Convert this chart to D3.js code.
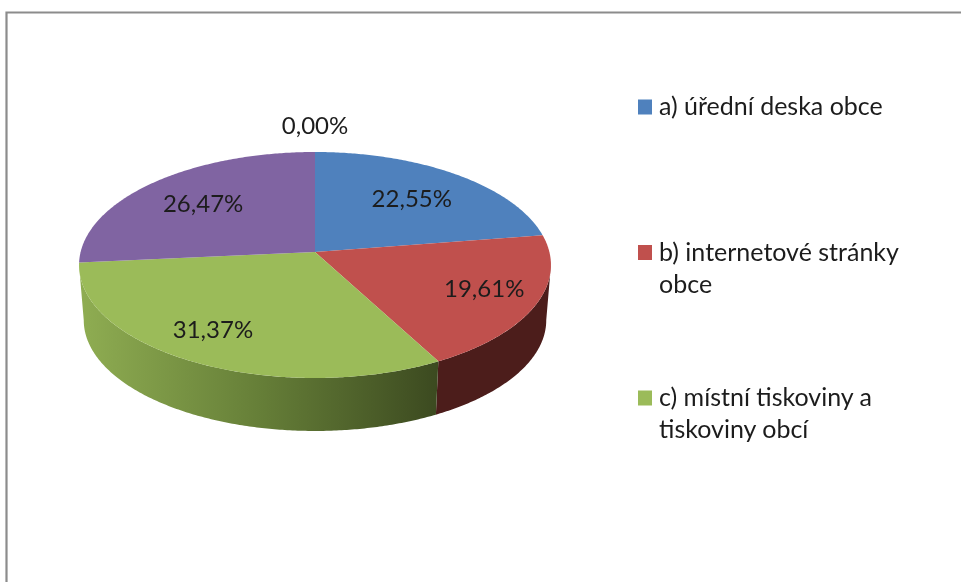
<!DOCTYPE html>
<html>
<head>
<meta charset="utf-8">
<script src="https://cdn.jsdelivr.net/npm/d3@7"></script>
<style>
    html, body { margin: 0; padding: 0; background: #fff; }
    svg { display: block; filter: blur(0.45px); }
    text { font-family: Lato, "Open Sans", sans-serif; fill: #1c1c1c; }
</style>
</head>
<body>
<svg id="chart" width="961" height="582"></svg>
<script>
// values as printed on the slices, clockwise from 12 o'clock
var sliceLabels = ['22,55%', '19,61%', '31,37%', '26,47%', '0,00%'];
var sliceValues = [22.55, 19.61, 31.37, 26.47, 0];
var sliceColors = ['#4f81bd', '#c0504d', '#9bbb59', '#8064a2', '#4bacc6'];
// only three legend entries are visible in the picture
var legendLines = [
    ['a) úřední deska obce'],
    ['b) internetové stránky', 'obce'],
    ['c) místní tiskoviny a', 'tiskoviny obcí']
];

var svg = d3.select('#chart');

// frame, cut off on the right and the bottom
svg.append('path')
    .attr('d', 'M6.5,582V12.5H961')
    .attr('fill', 'none')
    .attr('stroke', '#8c8c8c')
    .attr('stroke-width', 2.2);

// pie lies in a tilted plane: unit circle -> screen, with near edge bigger
var cx = 315, cy = 252, radiusX = 234.4, radiusY = 111.5, persp = 0.115;
var sideDrop = 55.5, sideScale = 0.98;

function project(angle, r, bottom) {
    var u = r * Math.sin(angle);
    var v = -r * Math.cos(angle);
    var w = 1 - persp * v;
    var px = radiusX * u / w;
    var py = radiusY * v / w;
    if (bottom) {
        return [cx + px * sideScale, cy + py * sideScale + sideDrop];
    }
    return [cx + px, cy + py];
}

function arcPoints(a0, a1, r, bottom) {
    var n = Math.max(2, Math.ceil(Math.abs(a1 - a0) / 0.01));
    return d3.range(n + 1).map(function (i) {
        return project(a0 + (a1 - a0) * i / n, r, bottom);
    });
}

var pie = d3.pie().sort(null).value(function (d) { return d; });
var slices = pie(sliceValues);
var line = d3.line();

// gradient for the green wall, red wall stays nearly flat
var defs = svg.append('defs');
var greenSide = defs.append('linearGradient')
    .attr('id', 'greenSide')
    .attr('gradientUnits', 'userSpaceOnUse')
    .attr('x1', 80).attr('x2', 437).attr('y1', 0).attr('y2', 0);
greenSide.append('stop').attr('offset', '0%').attr('stop-color', '#8fad52');
greenSide.append('stop').attr('offset', '50%').attr('stop-color', '#667f38');
greenSide.append('stop').attr('offset', '100%').attr('stop-color', '#3c4a20');

var sideFill = ['#2f4b70', '#4c1d1b', 'url(#greenSide)', '#4c3b61', '#2d6776'];

// walls first, only the slices facing the viewer show one
var frontSlices = slices.filter(function (d) {
    return Math.cos((d.startAngle + d.endAngle) / 2) < 0;
});
// where the rim turns away, widest point of the projected circle
var rimStart = Math.acos(-persp);
var rimEnd = 2 * Math.PI - rimStart;

svg.append('g').selectAll('path')
    .data(frontSlices)
    .enter()
    .append('path')
    .attr('d', function (d) {
        var a0 = Math.max(d.startAngle, rimStart);
        var a1 = Math.min(d.endAngle, rimEnd);
        var pts = arcPoints(a0, a1, 1, false)
            .concat(arcPoints(a1, a0, 1, true));
        return line(pts) + 'Z';
    })
    .attr('fill', function (d) { return sideFill[d.index]; });

// top faces
svg.append('g').selectAll('path')
    .data(slices)
    .enter()
    .append('path')
    .attr('d', function (d) {
        var pts = [[cx, cy]].concat(arcPoints(d.startAngle, d.endAngle, 1, false));
        return line(pts) + 'Z';
    })
    .attr('fill', function (d, i) { return sliceColors[i]; });

// labels sit at their own distance from the centre, like the excel layout
var labelRadius = [0.65, 0.77, 0.75, 0.68, 1.3];
var labelShift = [[3, -1], [1, -3], [-12, -2], [0, 0], [0, 0]];

svg.append('g').selectAll('text')
    .data(slices)
    .enter()
    .append('text')
    .attr('transform', function (d, i) {
        var mid = (d.startAngle + d.endAngle) / 2;
        var p = project(mid, labelRadius[i], false);
        return 'translate(' + (p[0] + labelShift[i][0]) + ',' + (p[1] + labelShift[i][1]) + ')';
    })
    .attr('text-anchor', 'middle')
    .attr('dy', '0.34em')
    .attr('font-size', 24)
    .text(function (d, i) { return sliceLabels[i]; });

// legend
var legendY = d3.scalePoint().domain(d3.range(legendLines.length)).range([107, 398]);
var lineStep = 32;

var legend = svg.append('g').selectAll('g')
    .data(legendLines)
    .enter()
    .append('g')
    .attr('transform', function (d, i) {
        return 'translate(638,' + legendY(i) + ')';
    });

legend.append('rect')
    .attr('y', -7.5)
    .attr('width', 14)
    .attr('height', 15)
    .attr('fill', function (d, i) { return sliceColors[i]; });

legend.selectAll('text')
    .data(function (d) { return d; })
    .enter()
    .append('text')
    .attr('x', 21)
    .attr('y', function (d, i) { return 8 + i * lineStep; })
    .attr('font-size', 25)
    .text(function (d) { return d; });
</script>
</body>
</html>
